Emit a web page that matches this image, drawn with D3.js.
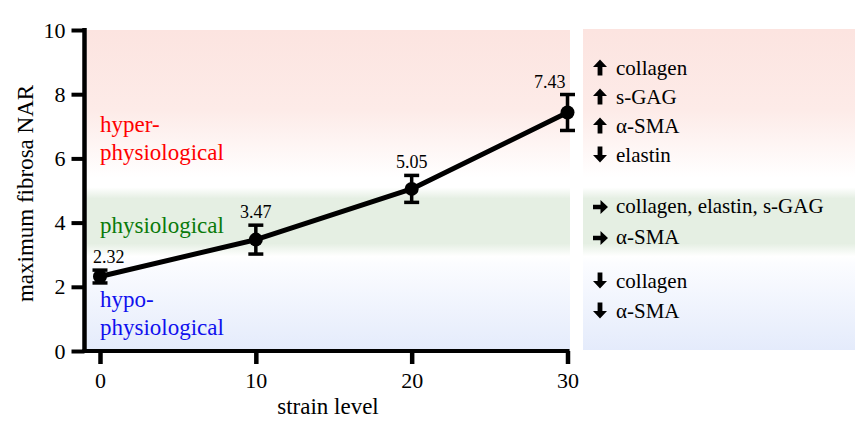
<!DOCTYPE html>
<html>
<head>
<meta charset="utf-8">
<script src="https://cdn.jsdelivr.net/npm/d3@7"></script>
<style>
  html, body { margin: 0; padding: 0; background: #ffffff; }
  svg { display: block; }
  svg text { font-family: "Liberation Serif", "Times New Roman", Times, "DejaVu Serif", serif !important; }
</style>
</head>
<body>
<svg id="chart" width="857" height="428"></svg>
<script>
// ---- data ----
const strainLevels = [0, 10, 20, 30];
const narMean = [2.32, 3.47, 5.05, 7.43];
const narError = [0.2, 0.45, 0.42, 0.56];
const narLabels = ["2.32", "3.47", "5.05", "7.43"];
const xTicks = [0, 10, 20, 30];
const yTicks = [0, 2, 4, 6, 8, 10];
const xTitle = "strain level";
const yTitle = "maximum fibrosa NAR";
const zoneNames = [["hyper-", "physiological"], ["physiological"], ["hypo-", "physiological"]];
const zoneLabelValues = [6.82, 3.69, 1.37];
const effectDirections = ["up", "up", "up", "down", "right", "right", "down", "down"];
const effectTexts = ["collagen", "s-GAG", "α-SMA", "elastin", "collagen, elastin, s-GAG", "α-SMA", "collagen", "α-SMA"];

// ---- layout ----
const FONT = "'Liberation Serif', 'Times New Roman', Times, 'DejaVu Serif', serif";
const svg = d3.select("#chart");
const x = d3.scaleLinear().domain([0, 30]).range([100, 567.5]);
const y = d3.scaleLinear().domain([0, 10]).range([351, 30]);
const axisX = 84.5;

// gradient background (same bands in plot and side panel)
const defs = svg.append("defs");
const grad = defs.append("linearGradient")
  .attr("id", "bands").attr("gradientUnits", "userSpaceOnUse")
  .attr("x1", 0).attr("x2", 0).attr("y1", y(10)).attr("y2", y(0));
const stops = [
  [10, "#fce4e0"], [7.5, "#fdebe8"], [5.4, "#ffffff"], [5.1, "#ffffff"],
  [4.75, "#e5efe3"], [3.35, "#e5efe3"], [2.95, "#ffffff"], [2.7, "#fbfcff"],
  [0, "#e4ebfb"]
];
stops.forEach(([v, c]) => {
  grad.append("stop").attr("offset", (y(v) - y(10)) / (y(0) - y(10))).attr("stop-color", c);
});

svg.append("rect").attr("x", axisX + 2).attr("y", y(10)).attr("width", 570 - axisX - 2)
  .attr("height", y(0) - y(10)).attr("fill", "url(#bands)");
svg.append("rect").attr("x", 583).attr("y", y(10) - 1).attr("width", 272)
  .attr("height", y(0) - y(10)).attr("fill", "url(#bands)");

// zone labels
const zoneColors = ["#ff0000", "#0a7a0a", "#1010ee"];
zoneNames.forEach((lines, i) => {
  const t = svg.append("text").attr("x", 100).attr("y", y(zoneLabelValues[i]))
    .attr("font-size", 23).attr("font-family", FONT).attr("fill", zoneColors[i]);
  lines.forEach((l, j) => {
    t.append("tspan").attr("x", 100).attr("dy", j === 0 ? 0 : 27.5).text(l);
  });
});

// axes
const gx = svg.append("g").attr("transform", `translate(0,${y(0)})`)
  .call(d3.axisBottom(x).tickValues(xTicks).tickSize(13).tickPadding(8).tickFormat(d3.format("d")));
gx.attr("font-family", FONT);
gx.select(".domain").attr("d", `M${axisX - 2},0H${x(30) + 2}`).attr("stroke", "#000").attr("stroke-width", 4);
gx.selectAll(".tick line").attr("stroke", "#000").attr("stroke-width", 4.5);
gx.selectAll(".tick text").attr("font-size", 22).attr("fill", "#000").attr("font-family", FONT);

const gy = svg.append("g").attr("transform", `translate(${axisX},0)`)
  .call(d3.axisLeft(y).tickValues(yTicks).tickSize(13).tickPadding(6).tickFormat(d3.format("d")));
gy.attr("font-family", FONT);
gy.select(".domain").attr("d", `M0,${y(10) - 2}V${y(0) + 2}`).attr("stroke", "#000").attr("stroke-width", 4.5);
gy.selectAll(".tick line").attr("stroke", "#000").attr("stroke-width", 4);
gy.selectAll(".tick text").attr("font-size", 22).attr("fill", "#000").attr("font-family", FONT);

svg.append("text").attr("x", (axisX + x(30)) / 2 + 2).attr("y", 414).attr("text-anchor", "middle")
  .attr("font-size", 23).attr("font-family", FONT).attr("fill", "#000").text(xTitle);
svg.append("text").attr("transform", `translate(33,${(y(0) + y(10)) / 2 + 3}) rotate(-90)`)
  .attr("text-anchor", "middle").attr("font-size", 23).attr("font-family", FONT).attr("fill", "#000").text(yTitle);

// data
const pts = strainLevels.map((s, i) => ({ s, v: narMean[i], e: narError[i], lab: narLabels[i], i }));
svg.append("path").datum(pts)
  .attr("d", d3.line().x(d => x(d.s)).y(d => y(d.v)))
  .attr("fill", "none").attr("stroke", "#000").attr("stroke-width", 5).attr("stroke-linejoin", "round");

const eb = svg.append("g").attr("stroke", "#000").attr("stroke-width", 3.5);
pts.forEach(d => {
  eb.append("line").attr("x1", x(d.s)).attr("x2", x(d.s)).attr("y1", y(d.v + d.e)).attr("y2", y(d.v - d.e));
  [d.v + d.e, d.v - d.e].forEach(v => {
    eb.append("line").attr("x1", x(d.s) - 7.5).attr("x2", x(d.s) + 7.5).attr("y1", y(v)).attr("y2", y(v));
  });
});
svg.append("g").selectAll("circle").data(pts).join("circle")
  .attr("cx", d => x(d.s)).attr("cy", d => y(d.v)).attr("r", 7).attr("fill", "#000");

svg.append("g").selectAll("text").data(pts).join("text")
  .attr("x", d => d.i === 0 ? x(d.s) - 7 : d.i === pts.length - 1 ? x(d.s) - 2 : x(d.s))
  .attr("y", d => y(d.v + d.e) - 7)
  .attr("text-anchor", d => d.i === 0 ? "start" : d.i === pts.length - 1 ? "end" : "middle")
  .attr("font-size", 18).attr("font-family", FONT).attr("fill", "#000").text(d => d.lab);

// side panel
const rowY = [75, 104, 133, 162, 213, 244, 288, 318];
const arrowPaths = {
  up: "M0,-15.5 L7,-8 L2.4,-8 L2.4,0.5 L-2.4,0.5 L-2.4,-8 L-7,-8 Z",
  down: "M0,0.5 L7,-7 L2.4,-7 L2.4,-15.5 L-2.4,-15.5 L-2.4,-7 L-7,-7 Z",
  right: "M7.5,-6 L0,-13 L0,-8.2 L-7.5,-8.2 L-7.5,-3.8 L0,-3.8 L0,1 Z"
};
effectTexts.forEach((t, i) => {
  svg.append("path").attr("d", arrowPaths[effectDirections[i]])
    .attr("transform", `translate(${effectDirections[i] === "right" ? 600.5 : 600},${rowY[i]})`)
    .attr("fill", "#000");
  svg.append("text").attr("x", 616).attr("y", rowY[i]).attr("font-size", 21)
    .attr("font-family", FONT).attr("fill", "#000").text(t);
});
</script>
</body>
</html>
